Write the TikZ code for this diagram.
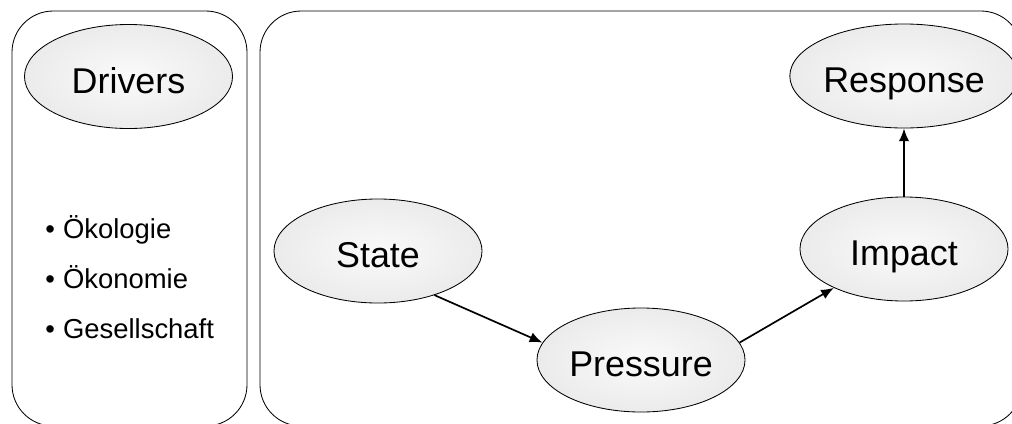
\documentclass[tikz,border=0pt]{standalone}
\usepackage{fontspec}
\setmainfont{Liberation Sans}
\usetikzlibrary{positioning,shapes.geometric,arrows.meta}
\pgfdeclareradialshading{ellshade}{\pgfpoint{0bp}{0bp}}{color(0bp)=(gray!4); color(30bp)=(gray!18); color(50bp)=(gray!38)}
\tikzset{stage/.style={ellipse,draw,line width=0.6pt,shading=ellshade,minimum width=5.2cm,minimum height=2.6cm,inner sep=0pt,
                       text height=24pt,text depth=0pt,font=\fontsize{25.5}{30}\selectfont},
         frame/.style={draw,line width=0.6pt,rounded corners=1.03cm},
         line/.style={-{Latex[length=3.2mm,width=2.6mm]},line width=1.2pt}
}

\begin{document}
\begin{tikzpicture}[x=0.025cm,y=-0.025cm]
  \useasboundingbox (0,0) rectangle (1012,423);
  % the two panels
  \draw[frame] (12,11) rectangle (247,426);
  \draw[frame] (260,11) rectangle (1022,426);

  \node[stage] (d) at (128.5,76.5) {Drivers};
  \node[align=left,anchor=west,inner sep=0pt,font=\fontsize{19.5}{35.6}\selectfont] (l) at (45,277)
    {\textbullet\kern0.3em Ökologie\\\textbullet\kern0.3em Ökonomie\\\textbullet\kern0.3em Gesellschaft};

  \node[stage] (s) at (378,251) {State};
  \node[stage] (p) at (641,360) {Pressure};
  \node[stage] (i) at (904,249) {Impact};
  \node[stage] (r) at (904,76) {Response};

  \draw[line] (s.-38) -- (p.170);
  \draw[line] (p.10) -- (i.209);
  \draw[line] (i.north) -- (r.south);
\end{tikzpicture}
\end{document}
